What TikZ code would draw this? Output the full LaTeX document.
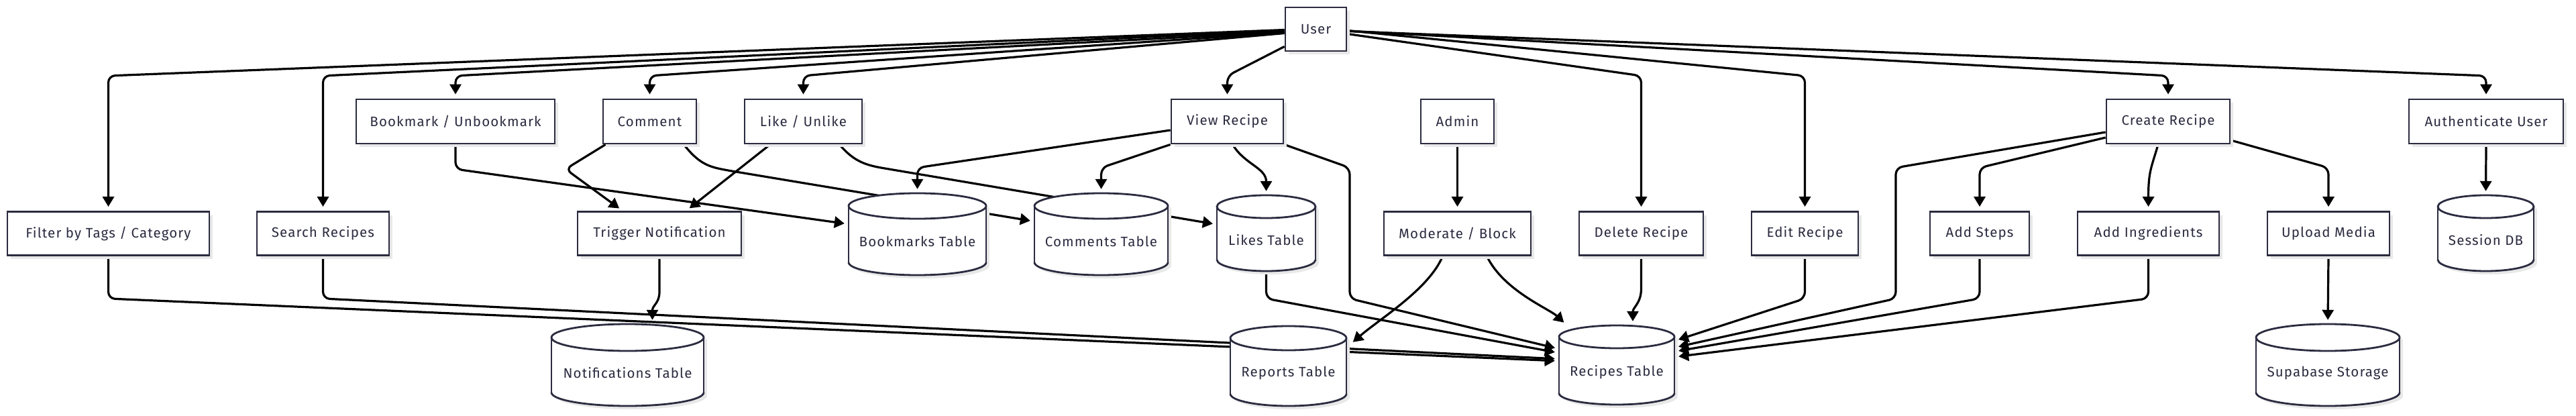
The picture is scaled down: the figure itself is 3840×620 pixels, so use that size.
\documentclass[tikz,border=0pt]{standalone}
\usepackage{fontspec}
\setmainfont[LetterSpace=5.5]{Fira Sans}
\usetikzlibrary{arrows.meta,shadows}
\definecolor{navy}{HTML}{2B2B40}
\colorlet{shadowc}{black!9}
\pgfdeclarelayer{edges}
\pgfsetlayers{edges,main}
\newcommand\lblfont{\fontsize{20.5}{24}\selectfont}
\tikzset{
 box/.style={draw=navy, line width=2.8pt, fill=white, text=navy, font=\lblfont,
   inner sep=0pt, minimum height=65pt,
   drop shadow={shadow xshift=5pt, shadow yshift=-5pt, fill=shadowc, opacity=1}},
 cylline/.style={draw=navy, line width=2.8pt},
 lbl/.style={text=navy, font=\lblfont, inner sep=0pt},
 edge/.style={draw=black, line width=3.2pt, rounded corners=10pt,
   -{Triangle[length=15pt,width=17pt]}, shorten >=6pt},
}
% name, cx, top, bottom, width, ry, text
\newcommand\dbcyl[7]{%
 \pgfmathsetmacro\cxL{#2-#5/2}\pgfmathsetmacro\cxR{#2+#5/2}%
 \pgfmathsetmacro\rxx{#5/2}%
 \pgfmathsetmacro\yT{#3+#6}\pgfmathsetmacro\yB{#4-#6}%
 \pgfmathsetmacro\yM{(#3+#4)/2}\pgfmathsetmacro\yL{(#3+#4)/2+0.6*#6}%
 \pgfmathsetmacro\hh{#4-#3}%
 \node[inner sep=0pt, minimum width=#5pt, minimum height=\hh pt] (#1) at (#2,\yM) {};%
 \begin{scope}[shift={(5,5)}]
  \fill[shadowc] (\cxL,\yT) rectangle (\cxR,\yB);
  \fill[shadowc] (#2,\yT) ellipse [x radius=\rxx, y radius=#6];
  \fill[shadowc] (#2,\yB) ellipse [x radius=\rxx, y radius=#6];
 \end{scope}
 \fill[white] (\cxL,\yT) rectangle (\cxR,\yB);
 \fill[white] (#2,\yB) ellipse [x radius=\rxx, y radius=#6];
 \draw[cylline, fill=white] (#2,\yT) ellipse [x radius=\rxx, y radius=#6];
 \draw[cylline] (\cxL,\yT) -- (\cxL,\yB) (\cxR,\yT) -- (\cxR,\yB);
 \begin{scope}
  \clip (\cxL-5,\yB) rectangle (\cxR+5,#4+5);
  \draw[cylline] (#2,\yB) ellipse [x radius=\rxx, y radius=#6];
 \end{scope}
 \node[lbl] (#1-l) at (#2,\yL) {#7};%
}
\begin{document}
\begin{tikzpicture}[x=1pt,y=-1pt]
\useasboundingbox (0,0) rectangle (3840,620);
% helper levels
\coordinate (r1) at (0,113);
\coordinate (r2) at (0,250);
\coordinate (r3) at (0,445);

% boxes
\node[box, minimum width=91pt] (user) at (1961.5,43.5) {User};
\node[box, minimum width=296pt, minimum height=66pt] (bookmark) at (679,181) {Bookmark / Unbookmark};
\node[box, minimum width=139pt, minimum height=66pt] (comment) at (968.5,181) {Comment};
\node[box, minimum width=175pt, minimum height=66pt] (like) at (1197.5,181) {Like / Unlike};
\node[box, minimum width=167pt, minimum height=66pt] (view) at (1829.5,181) {View Recipe};
\node[box, minimum width=109pt, minimum height=66pt] (admin) at (2172.5,181) {Admin};
\node[box, minimum width=184pt, minimum height=66pt] (create) at (3232,181) {Create Recipe};
\node[box, minimum width=230pt, minimum height=66pt] (auth) at (3706,181) {Authenticate User};

\node[box, minimum width=301pt] (filter) at (161.5,348) {Filter by Tags / Category};
\node[box, minimum width=197pt] (search) at (481.5,348) {Search Recipes};
\node[box, minimum width=244pt] (trigger) at (983,348) {Trigger Notification};
\node[box, minimum width=219pt] (moderate) at (2172.5,348) {Moderate / Block};
\node[box, minimum width=185pt] (delete) at (2446.5,348) {Delete Recipe};
\node[box, minimum width=159pt] (edit) at (2690.5,348) {Edit Recipe};
\node[box, minimum width=148pt] (steps) at (2951,348) {Add Steps};
\node[box, minimum width=211pt] (ingr) at (3202.5,348) {Add Ingredients};
\node[box, minimum width=182pt] (upload) at (3471,348) {Upload Media};

% databases
\dbcyl{bmT}{1367.5}{288}{410}{205}{19}{Bookmarks Table}
\dbcyl{cmT}{1641.5}{288}{410}{199}{19}{Comments Table}
\dbcyl{lkT}{1887.5}{291}{404}{147}{17}{Likes Table}
\dbcyl{sesT}{3705.5}{291}{404}{143}{17}{Session DB}
\dbcyl{notT}{935.5}{483}{605}{227}{20}{Notifications Table}
\dbcyl{repT}{1920.5}{486}{605}{173}{18}{Reports Table}
\dbcyl{recT}{2410}{485}{603}{172}{17}{Recipes Table}
\dbcyl{supT}{3470}{483}{605}{214}{20}{Supabase Storage}

\begin{pgfonlayer}{edges}
% from User, left fan
\draw[edge] ([yshift=-1pt]user.west) -- (filter.north |- r1) -- (filter.north);
\draw[edge] ([yshift=-2pt]user.west) -- (search.north |- r1) -- (search.north);
\draw[edge] ([yshift=-4pt]user.west) -- (bookmark.north |- r1) -- (bookmark.north);
\draw[edge] ([yshift=-5pt]user.west) -- (comment.north |- r1) -- (comment.north);
\draw[edge] ([yshift=-6pt]user.west) -- (like.north |- r1) -- (like.north);
\draw[edge] ([yshift=8pt]user.south west) -- (view.north |- r1) -- (view.north);
% from User, right fan
\draw[edge] ([yshift=-7pt]user.east) -- (delete.north |- r1) -- (delete.north);
\draw[edge] ([yshift=-2pt]user.east) -- (edit.north |- r1) -- (edit.north);
\draw[edge] ([yshift=-2.5pt]user.east) -- (create.north |- r1) -- (create.north);
\draw[edge] ([yshift=-3pt]user.east) -- (auth.north |- r1) -- (auth.north);

% Bookmark, Comment, Like
\draw[edge] (bookmark.south) -- (679,252) -- ([yshift=15pt]bmT.west);
\draw[edge] ([xshift=5pt]comment.south west) -- (843,252) -- ([xshift=-55pt]trigger.north);
\draw[edge] ([xshift=-20pt]comment.south east) .. controls (1040,242) and (1055,248) .. (1085,254) -- ([yshift=19pt]cmT.west);
\draw[edge] ([xshift=-49.5pt]like.south) -- ([xshift=40pt]trigger.north);
\draw[edge] ([xshift=-35pt]like.south east) .. controls (1272,240) and (1290,246) .. (1325,252) -- ([yshift=13pt]lkT.west);
\draw[edge] (trigger.south) -- (983,425) .. controls (983,452) and (972.5,455) .. ([xshift=37pt]notT.north);

% View Recipe
\draw[edge] ([yshift=-13pt]view.west) -- (bmT.north |- r2) -- (bmT.north);
\draw[edge] (view.south west) -- (cmT.north |- r2) -- (cmT.north);
\draw[edge] ([xshift=8pt]view.south) .. controls (1855,245) and (1887.5,250) .. (lkT.north);
\draw[edge] (view.south east) -- (2012,250) -- (2012,445) -- ([yshift=24pt]recT.west);

% to Recipes Table from the left
\draw[edge] (filter.south) -- (filter.south |- r3) -- ([yshift=6pt]recT.west);
\draw[edge] (search.south) -- (search.south |- r3) -- ([yshift=9pt]recT.west);
\draw[edge] (lkT.south) -- (lkT.south |- r3) -- ([yshift=18pt]recT.west);

% Admin / Moderate / Delete
\draw[edge] (admin.south) -- (moderate.north);
\draw[edge] ([xshift=-22pt]moderate.south) .. controls (2130,431) and (2057,475) .. ([xshift=5pt,yshift=-28pt]repT.north east);
\draw[edge] ([xshift=44pt]moderate.south) .. controls (2241,433) and (2309,460) .. ([xshift=12pt]recT.north west);
\draw[edge] (delete.south) -- (2446.5,420) .. controls (2446.5,452) and (2434,458) .. ([xshift=24pt]recT.north);

% to Recipes Table from the right
\draw[edge] (edit.south) -- (edit.south |- r3) -- ([yshift=36pt]recT.east);
\draw[edge] ([yshift=-16pt]create.west) -- (2826,250) -- (2826,445) -- ([yshift=26pt]recT.east);
\draw[edge] (steps.south) -- (steps.south |- r3) -- ([yshift=20pt]recT.east);
\draw[edge] (ingr.south) -- (ingr.south |- r3) -- ([yshift=12pt]recT.east);

% Create Recipe children
\draw[edge] ([yshift=-24pt]create.west) -- (steps.north |- r2) -- (steps.north);
\draw[edge] ([xshift=-15pt]create.south) .. controls (3207,250) and (3202.5,255) .. (ingr.north);
\draw[edge] ([yshift=-28pt]create.east) -- (upload.north |- r2) -- (upload.north);

% storage
\draw[edge] (upload.south) -- (supT.north);
\draw[edge] (auth.south) -- (sesT.north);
\end{pgfonlayer}
\end{tikzpicture}
\end{document}
